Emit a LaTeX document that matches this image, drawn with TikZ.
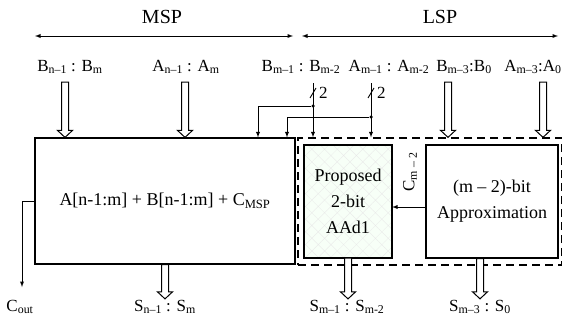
\documentclass[tikz,border=0pt]{standalone}
\usepackage{fontspec}
\setmainfont{Liberation Serif}
\usetikzlibrary{calc,patterns.meta}

\newcommand{\ix}[1]{\textsubscript{#1}}
% hollow bus arrow, pointing down from #1 to the height of #2
\newcommand{\busarrow}[2]{
    \draw[bus] ($(#1)+(-3.5,0)$) -- ($(#1 |- #2)+(-3.5,-7)$)
      -- ($(#1 |- #2)+(-7.5,-7)$) -- (#1 |- #2)
      -- ($(#1 |- #2)+(7.5,-7)$) -- ($(#1 |- #2)+(3.5,-7)$)
      -- ($(#1)+(3.5,0)$) -- cycle;
}
% slash on a wire with its bit count
\newcommand{\buswidth}[2]{
    \draw[wire] ($(#1)+(-3,5)$) -- ($(#1)+(3,-5)$);
    \node[lbl, right] (#2) at ($(#1)+(5,0)$) {2};
}

\begin{document}
\begin{tikzpicture}[x=1pt, y=-1pt, >=latex,
    blk/.style={draw, line width=1.2pt, inner sep=0pt, align=center,
      font=\fontsize{18}{26}\selectfont},
    lbl/.style={font=\fontsize{17}{20}\selectfont, inner sep=1pt},
    part/.style={font=\fontsize{20}{24}\selectfont},
    wire/.style={line width=0.9pt},
    bus/.style={line width=1pt, fill=white},
    dot/.style={circle, fill, inner sep=0pt, minimum size=3.5pt}]

  \useasboundingbox (0,0) rectangle (562,321);

  % spans
  \node[part] (msp) at (162,17) {MSP};
  \node[part] (lsp) at (440,17) {LSP};
  \coordinate (mspl) at (35,36);
  \coordinate (mspr) at (293,36);
  \coordinate (lspl) at (302,36);
  \coordinate (lspr) at (558,36);
  \draw[wire, <->] (mspl) -- (mspr);
  \draw[wire, <->] (lspl) -- (lspr);

  % blocks
  \node[blk, minimum width=260, minimum height=126] (msb) at (165,201)
    {A[n-1:m] + B[n-1:m] + C\ix{MSP}};
  \node[draw, line width=1.3pt, dash pattern=on 8pt off 5pt,
    minimum width=264, minimum height=127] (lsb) at (430,201.5) {};
  \node[blk, minimum width=88, minimum height=113,
    preaction={fill=green!3},
    pattern={Hatch[angle=45,distance=9pt,line width=0.3pt]},
    pattern color=gray!18] (prop) at (348,201.5) {Proposed\\2-bit\\AAd1};
  \node[blk, minimum width=132, minimum height=113] (apx) at (492,201.5)
    {(m – 2)-bit\\Approximation};

  % inputs
  \node[lbl] (ib1) at (70,67) {B\ix{n–1} : B\ix{m}};
  \node[lbl] (ia1) at (186,67) {A\ix{n–1} : A\ix{m}};
  \node[lbl] (ib2) at (301,67) {B\ix{m–1} : B\ix{m-2}};
  \node[lbl] (ia2) at (389,67) {A\ix{m–1} : A\ix{m-2}};
  \node[lbl] (ib3) at (464,67) {B\ix{m–3}:B\ix{0}};
  \node[lbl] (ia3) at (533,67) {A\ix{m–3}:A\ix{0}};

  \coordinate (tb1) at (65,82);
  \coordinate (ta1) at (185,82);
  \coordinate (tb3) at (448,82);
  \coordinate (ta3) at (543,82);
  \busarrow{tb1}{msb.north}
  \busarrow{ta1}{msb.north}
  \busarrow{tb3}{lsb.north}
  \busarrow{ta3}{lsb.north}

  % 2-bit wires into both parts
  \coordinate (tb2) at (313,83);
  \coordinate (ta2) at (371,83);
  \draw[wire, ->] (tb2) -- (tb2 |- lsb.north);
  \draw[wire, ->] (ta2) -- (ta2 |- lsb.north);
  \coordinate (sb) at (313,93);
  \coordinate (sa) at (371,93);
  \buswidth{sb}{wb}
  \buswidth{sa}{wa}
  \node[dot] (jb) at (313,106) {};
  \node[dot] (ja) at (371,117) {};
  \coordinate (fb) at (258,106);
  \coordinate (fa) at (287,117);
  \draw[wire, ->] (jb) -- (fb) -- (fb |- msb.north);
  \draw[wire, ->] (ja) -- (fa) -- (fa |- msb.north);

  % carries
  \coordinate (cy) at (0,207);
  \draw[wire, ->] (apx.west |- cy) -- (prop.east |- cy);
  \node[lbl, rotate=90] (cm) at (410,172) {C\ix{m – 2}};
  \node[lbl] (co) at (20,307) {C\ix{out}};
  \coordinate (cout) at (22,287);
  \draw[wire, ->] (msb.west) -- (cout |- msb.west) -- (cout);

  % outputs
  \node[lbl] (s1) at (165,307) {S\ix{n–1} : S\ix{m}};
  \node[lbl] (s2) at (347,307) {S\ix{m–1} : S\ix{m-2}};
  \node[lbl] (s3) at (480,307) {S\ix{m–3} : S\ix{0}};
  \coordinate (ob3) at (s3 |- apx.south);
  \busarrow{msb.south}{s1.north}
  \busarrow{prop.south}{s2.north}
  \busarrow{ob3}{s3.north}

\end{tikzpicture}
\end{document}
